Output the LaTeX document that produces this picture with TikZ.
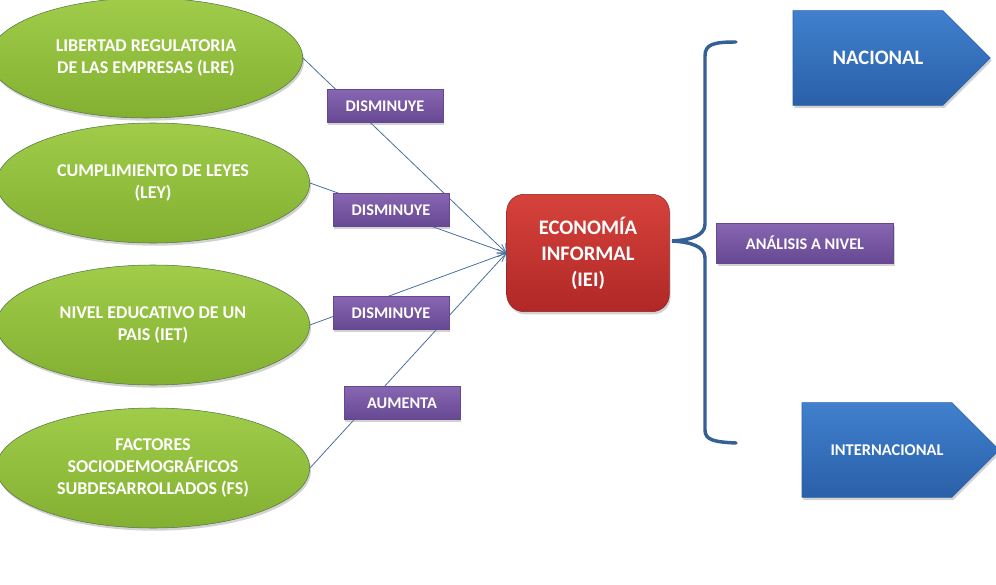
\documentclass[tikz,border=0pt]{standalone}
\usepackage{fontspec}
\setmainfont{Carlito}
\usetikzlibrary{arrows.meta,shapes.geometric,shapes.symbols,shadows}
\definecolor{verdeA}{RGB}{160,204,74}
\definecolor{verdeB}{RGB}{132,176,50}
\definecolor{verdeD}{RGB}{84,118,70}
\definecolor{rojoA}{RGB}{214,66,60}
\definecolor{rojoB}{RGB}{176,40,38}
\definecolor{rojoD}{RGB}{140,34,34}
\definecolor{moradoA}{RGB}{136,102,178}
\definecolor{moradoB}{RGB}{102,72,146}
\definecolor{azulA}{RGB}{64,128,206}
\definecolor{azulB}{RGB}{42,96,168}
\definecolor{linea}{RGB}{74,112,160}
\definecolor{llave}{RGB}{52,96,150}

\begin{document}
\begin{tikzpicture}[x=0.75pt, y=-0.75pt,
    sombra/.style={drop shadow={opacity=0.35, shadow xshift=1pt, shadow yshift=-2pt}},
    factor/.style={ellipse, draw=verdeD, top color=verdeA, bottom color=verdeB, sombra,
                   minimum width=235pt, minimum height=90pt, align=center, text=white,
                   font=\bfseries\fontsize{13.5}{17}\selectfont},
    efecto/.style={rectangle, draw=moradoB, top color=moradoA, bottom color=moradoB, sombra,
                   minimum width=87pt, minimum height=25pt, text=white,
                   font=\bfseries\fontsize{12.2}{14}\selectfont},
    central/.style={rectangle, rounded corners=13pt, draw=rojoD, top color=rojoA, bottom color=rojoB,
                   sombra, minimum width=122pt, minimum height=88pt, align=center, text=white,
                   font=\bfseries\fontsize{15.5}{19.5}\selectfont},
    nivel/.style={signal, signal to=east, signal pointer angle=90, draw=azulB,
                  top color=azulA, bottom color=azulB, sombra, minimum width=148pt,
                  minimum height=71pt, text=white},
    flecha/.style={-{Straight Barb[length=5pt]}, color=linea, line width=0.6pt},
    llavestyle/.style={draw=llave, line width=2.6pt, line cap=round}
  ]
    \useasboundingbox (0,0) rectangle (996,585);

    \draw[fill=white, draw=none] (0,0) rectangle (996,585);

    \node[factor] (lre) at (146,58)  {LIBERTAD REGULATORIA\\DE LAS EMPRESAS (LRE)};
    \node[factor] (ley) at (153,183) {CUMPLIMIENTO DE LEYES\\(LEY)};
    \node[factor] (iet) at (153,325) {NIVEL EDUCATIVO DE UN\\PAIS (IET)};
    \node[factor, font=\bfseries\fontsize{13.5}{16.5}\selectfont] (fs) at (153,468)
      {FACTORES\\SOCIODEMOGRÁFICOS\\SUBDESARROLLADOS (FS)};

    \node[central] (iei) at (588,253) {ECONOMÍA\\INFORMAL\\(IEI)};

    \draw[flecha] (lre.east) -- (iei.west);
    \draw[flecha] (ley.east) -- (iei.west);
    \draw[flecha] (iet.east) -- (iei.west);
    \draw[flecha] (fs.east)  -- (iei.west);

    \node[efecto] (d1) at (385,106) {DISMINUYE};
    \node[efecto] (d2) at (391,210) {DISMINUYE};
    \node[efecto] (d3) at (391,313) {DISMINUYE};
    \node[efecto] (au) at (402,403) {AUMENTA};

    \coordinate (punta) at (672,241);
    \draw[llavestyle] (736,42) .. controls (714,42) and (705,44) .. (705,56) -- (705,224)
      .. controls (705,236) and (690,240) .. (punta)
      .. controls (690,242) and (705,246) .. (705,258) -- (705,430)
      .. controls (705,440) and (714,442) .. (736,443);

    \node[efecto, minimum width=133pt, minimum height=30pt] (analisis) at (805,243) {ANÁLISIS A NIVEL};

    \node[nivel, font=\bfseries\fontsize{15.4}{17}\selectfont] (nac) at (868,58) {\hspace*{15pt}NACIONAL};
    \node[nivel, font=\bfseries\fontsize{12.3}{14}\selectfont] (int) at (877,450) {\hspace*{15pt}INTERNACIONAL};
  \end{tikzpicture}
\end{document}
